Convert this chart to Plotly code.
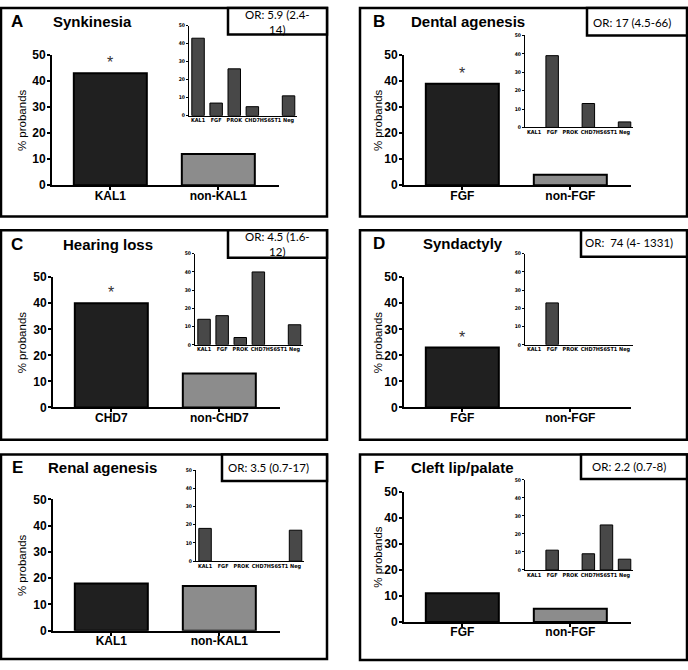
import plotly.graph_objects as go

# ---------------- data ----------------
panel_letters = ["A", "B", "C", "D", "E", "F"]
panel_titles = ["Synkinesia", "Dental agenesis", "Hearing loss",
                "Syndactyly", "Renal agenesis", "Cleft lip/palate"]
odds_ratio_texts = ["OR: 5.9 (2.4-<br>14)", "OR: 17 (4.5-66)", "OR: 4.5 (1.6-<br>12)",
                    "OR:  74 (4- 1331)", "OR: 3.5 (0.7-17)", "OR: 2.2 (0.7-8)"]
main_categories = [["KAL1", "non-KAL1"], ["FGF", "non-FGF"], ["CHD7", "non-CHD7"],
                   ["FGF", "non-FGF"], ["KAL1", "non-KAL1"], ["FGF", "non-FGF"]]
main_values = [[43, 12], [39, 4], [40, 13], [23, 0], [18, 17], [11, 5]]
significant = [True, True, True, True, False, False]
gene_groups = ["KAL1", "FGF", "PROK", "CHD7", "HS6ST1", "Neg"]
inset_values = [[43, 7, 26, 5, 0, 11],
                [0, 39, 0, 13, 0, 3],
                [14, 16, 4, 40, 0, 11],
                [0, 23, 0, 0, 0, 0],
                [18, 0, 0, 0, 0, 17],
                [0, 11, 0, 9, 25, 6]]
y_ticks = [0, 10, 20, 30, 40, 50]
y_label = "% probands"

# ---------------- layout geometry (pixels) ----------------
W, H = 688, 670
panel_boxes = [(1, 1, 327, 214), (360, 1, 687, 214), (1, 228, 327, 442),
               (360, 228, 687, 442), (1, 457, 327, 666), (360, 457, 687, 667)]
or_boxes = [(228, 1, 327, 28), (587, 1, 687, 29), (228, 228, 327, 256),
            (581, 228, 687, 255), (222, 457, 327, 484), (581, 457, 687, 482)]
or_centers = [(277, 15), (632, 16), (277, 242), (629, 241), (268, 470), (629, 469)]
letter_pos = [(17, 15), (379, 15), (17, 243), (379, 242), (17, 470), (379, 470)]
title_x = [51, 409, 61, 421, 46, 409]
main_geom = [(52, 49, 182), (404, 49, 182), (53, 276, 409),
             (404, 276, 409), (53, 503, 637), (404, 495, 628)]   # left, y(50), y(0)
ylabel_x = [22, 378, 22, 378, 22, 378]
inset_geom = [(189, 19, 111), (525, 29, 123), (195, 252, 345),
              (525, 252, 345), (196, 473, 566), (525, 483, 575)]

MAIN_RANGE = [-0.54, 1.56]
MAIN_UNIT = 108.0
INSET_RANGE = [-0.5, 5.45]
INSET_UNIT = 18.1


def px(x):
    return x / W


def py(y):
    return 1 - y / H


def drawn(values):
    # zero-height bars are not drawn in the original figure
    return [v if v != 0 else None for v in values]


FONT = "Liberation Sans, Arial, sans-serif"
NARROW = "Liberation Sans Narrow, Arial Narrow, DejaVu Sans Condensed, sans-serif"
OR_FONT = "Lato, Liberation Sans, sans-serif"

fig = go.Figure()
layout = dict(
    width=W, height=H, margin=dict(l=0, r=0, t=0, b=0),
    paper_bgcolor="white", plot_bgcolor="white", showlegend=False,
)
shapes = []
annotations = []

for i in range(6):
    nm = 2 * i + 1
    ni = 2 * i + 2
    fig.add_trace(go.Bar(
        x=main_categories[i], y=drawn(main_values[i]),
        marker=dict(color=["#202020", "#8c8c8c"], line=dict(color="black", width=2)),
        width=0.676, xaxis=f"x{nm}", yaxis=f"y{nm}", hoverinfo="x+y",
    ))
    fig.add_trace(go.Bar(
        x=gene_groups, y=drawn(inset_values[i]),
        marker=dict(color="#484848", line=dict(color="black", width=1)),
        width=0.69, xaxis=f"x{ni}", yaxis=f"y{ni}", hoverinfo="x+y",
    ))

    left, y50, y0 = main_geom[i]
    right = left + (MAIN_RANGE[1] - MAIN_RANGE[0]) * MAIN_UNIT
    layout[f"xaxis{nm}"] = dict(
        domain=[px(left), px(right)], range=MAIN_RANGE, type="category",
        anchor=f"y{nm}", showline=True, linewidth=2, linecolor="black",
        ticks="outside", ticklen=3, tickwidth=2, tickcolor="black",
        ticklabelstandoff=-5,
        tickfont=dict(family=FONT, size=12, color="black", weight="bold"),
        showgrid=False, zeroline=False, tickangle=0, fixedrange=True,
    )
    layout[f"yaxis{nm}"] = dict(
        domain=[py(y0), py(y50)], range=[0, 50], tickvals=y_ticks,
        anchor=f"x{nm}", showline=True, linewidth=2, linecolor="black",
        ticks="outside", ticklen=3, tickwidth=2, tickcolor="black",
        ticklabelstandoff=-1,
        tickfont=dict(family=FONT, size=12, color="black", weight="bold"),
        showgrid=False, zeroline=False, fixedrange=True,
    )

    ileft, iy50, iy0 = inset_geom[i]
    iright = ileft + (INSET_RANGE[1] - INSET_RANGE[0]) * INSET_UNIT
    layout[f"xaxis{ni}"] = dict(
        domain=[px(ileft), px(iright)], range=INSET_RANGE, type="category",
        anchor=f"y{ni}", showline=True, linewidth=1, linecolor="black",
        ticks="", ticklabelstandoff=-1,
        tickfont=dict(family=NARROW, size=5.5, color="black", weight="bold"),
        showgrid=False, zeroline=False, tickangle=0, fixedrange=True,
    )
    layout[f"yaxis{ni}"] = dict(
        domain=[py(iy0), py(iy50)], range=[0, 50], tickvals=y_ticks,
        anchor=f"x{ni}", showline=True, linewidth=1, linecolor="black",
        ticks="outside", ticklen=2, tickwidth=1, tickcolor="black",
        tickfont=dict(family=NARROW, size=5, color="black", weight="bold"),
        showgrid=False, zeroline=False, fixedrange=True,
    )

    x0, y0b, x1, y1b = panel_boxes[i]
    shapes.append(dict(type="rect", xref="paper", yref="paper",
                       x0=px(x0), x1=px(x1), y0=py(y1b), y1=py(y0b),
                       line=dict(color="black", width=2.5), fillcolor="rgba(0,0,0,0)"))
    x0, y0b, x1, y1b = or_boxes[i]
    shapes.append(dict(type="rect", xref="paper", yref="paper",
                       x0=px(x0), x1=px(x1), y0=py(y1b), y1=py(y0b),
                       line=dict(color="black", width=2.5), fillcolor="white"))
    cx, cy = or_centers[i]
    annotations.append(dict(xref="paper", yref="paper", x=px(cx), y=py(cy),
                            text=odds_ratio_texts[i], showarrow=False,
                            xanchor="center", yanchor="middle",
                            font=dict(family=OR_FONT, size=11.5, color="black")))
    lx, ly = letter_pos[i]
    annotations.append(dict(xref="paper", yref="paper", x=px(lx), y=py(ly),
                            text=f"<b>{panel_letters[i]}</b>", showarrow=False,
                            xanchor="center", yanchor="middle",
                            font=dict(family=FONT, size=17, color="black")))
    annotations.append(dict(xref="paper", yref="paper", x=px(title_x[i]), y=py(ly),
                            text=f"<b>{panel_titles[i]}</b>", showarrow=False,
                            xanchor="left", yanchor="middle",
                            font=dict(family=FONT, size=15, color="black")))
    annotations.append(dict(xref="paper", yref="paper", x=px(ylabel_x[i]),
                            y=py((y50 + y0) / 2), text=y_label, textangle=-90,
                            showarrow=False, xanchor="center", yanchor="middle",
                            font=dict(family=FONT, size=11.5, color="black")))
    if significant[i]:
        annotations.append(dict(xref=f"x{nm}", yref=f"y{nm}",
                                x=main_categories[i][0], y=main_values[i][0],
                                text="*", showarrow=False, xanchor="center",
                                yanchor="bottom", yshift=0,
                                font=dict(family=FONT, size=16, color="#333333")))

layout["shapes"] = shapes
layout["annotations"] = annotations
fig.update_layout(**layout)
fig.write_html("out.html", config={"displayModeBar": False},
               post_script="document.body.style.margin='0';document.body.style.overflow='hidden';")
